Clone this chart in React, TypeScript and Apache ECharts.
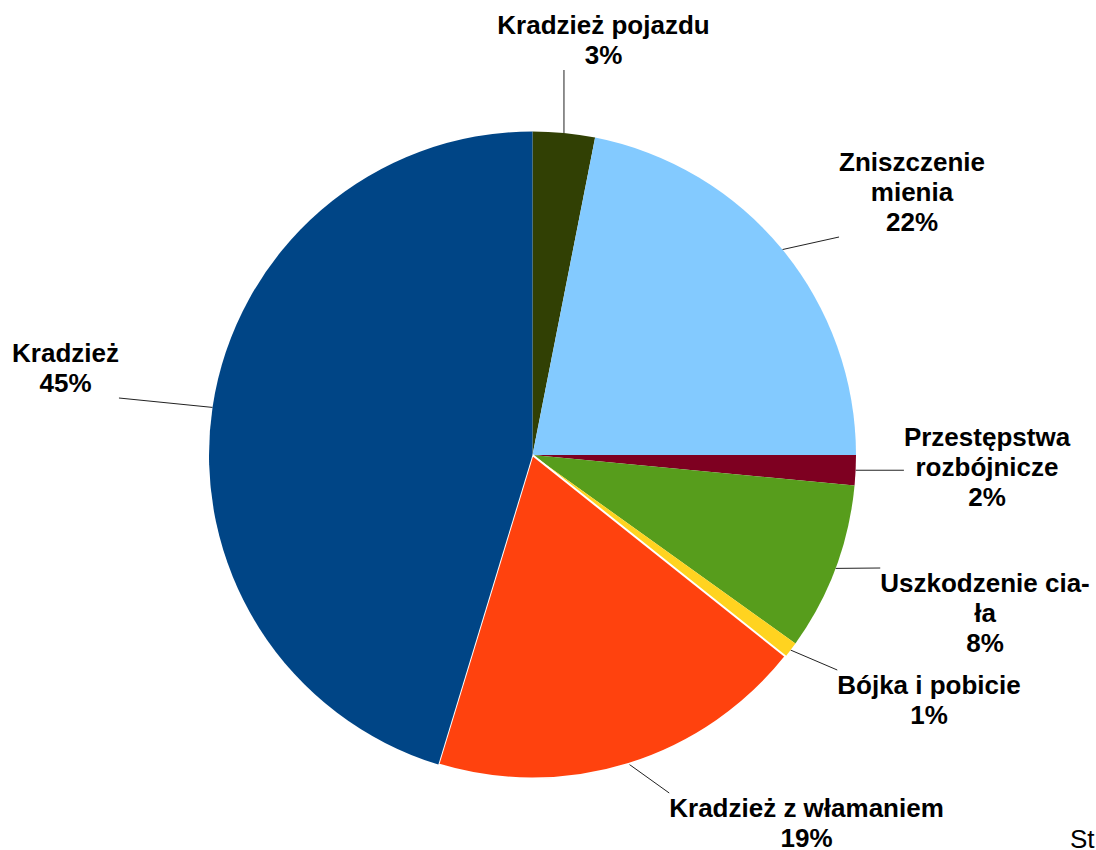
import React, { useEffect, useRef } from "react";
import * as echarts from "echarts";

// ---- data ----
const categories = [
  "Kradzież pojazdu",
  "Zniszczenie mienia",
  "Przestępstwa rozbójnicze",
  "Uszkodzenie ciała",
  "Bójka i pobicie",
  "Kradzież z włamaniem",
  "Kradzież",
];
// wrapped label texts as shown in the chart
const labelTexts = [
  "Kradzież pojazdu",
  "Zniszczenie\nmienia",
  "Przestępstwa\nrozbójnicze",
  "Uszkodzenie cia-\nła",
  "Bójka i pobicie",
  "Kradzież z włamaniem",
  "Kradzież",
];
const shares = [3.1, 21.9, 1.5, 8.4, 0.8, 19.0, 45.3];
const sliceColors = ["#314004", "#83caff", "#7e0021", "#579d1c", "#ffd320", "#ff420e", "#004586"];
const highlightedIndex = 5;
const footerText = "St";

// ---- layout of labels (center x, top y, how the leader line meets the label) ----
const labelPlacement = [
  { x: 603.5, y: 10, attach: "vertical" },
  { x: 912, y: 147, attach: "bottomLeft" },
  { x: 987, y: 422, attach: "left" },
  { x: 985, y: 568, attach: "topLeft" },
  { x: 929, y: 670, attach: "topLeft" },
  { x: 806.5, y: 793, attach: "topLeft" },
  { x: 65.5, y: 338, attach: "bottomRight" },
];

const FONT = "Liberation Sans";

export default function App() {
  const ref = useRef<HTMLDivElement>(null);

  useEffect(() => {
    if (!ref.current) return;
    const chart = echarts.init(ref.current, undefined, { renderer: "svg" });

    const data = categories.map((name, i) => ({
      name,
      value: shares[i],
      itemStyle:
        i === highlightedIndex
          ? { color: sliceColors[i], borderColor: "#ffffff", borderWidth: 2 }
          : { color: sliceColors[i], borderWidth: 0 },
    }));

    chart.setOption({
      animation: false,
      backgroundColor: "#ffffff",
      graphic: [
        {
          type: "text",
          left: 1070,
          top: 826,
          style: {
            text: footerText,
            font: `normal 26px "${FONT}"`,
            fill: "#000000",
          },
        },
      ],
      series: [
        {
          type: "pie",
          center: [532.5, 455],
          radius: 323.5,
          startAngle: 90,
          clockwise: true,
          avoidLabelOverlap: false,
          emphasis: { scale: false },
          data,
          label: {
            show: true,
            position: "outside",
            overflow: "none",
            fontFamily: FONT,
            fontWeight: "bold",
            fontSize: 26,
            lineHeight: 30,
            color: "#000000",
            align: "center",
            formatter: (p: any) =>
              `${labelTexts[p.dataIndex]}\n${Math.round(p.percent)}%`,
          },
          labelLine: {
            show: true,
            length: 10,
            length2: 0,
            smooth: false,
            lineStyle: { color: "#222222", width: 1 },
          },
          labelLayout: (params: any) => {
            const p = labelPlacement[params.dataIndex];
            const w = params.labelRect.width;
            const h = params.labelRect.height;
            const left = p.x - w / 2;
            const right = p.x + w / 2;
            const top = p.y;
            const bottom = p.y + h;
            const pts = params.labelLinePoints;
            const res: any = { x: p.x, y: p.y, align: "center", verticalAlign: "top" };
            if (pts && pts.length) {
              const s = pts[0];
              let end: number[];
              switch (p.attach) {
                case "vertical":
                  end = [s[0], bottom];
                  break;
                case "bottomLeft":
                  end = [left, bottom];
                  break;
                case "left":
                  end = [left, s[1]];
                  break;
                case "bottomRight":
                  end = [right, bottom];
                  break;
                default:
                  end = [left, top];
              }
              res.labelLinePoints = [s, end];
            }
            return res;
          },
        },
      ],
    });

    return () => chart.dispose();
  }, []);

  return (
    <div
      ref={ref}
      style={{ position: "absolute", left: 0, top: 0, width: 1096, height: 850 }}
    />
  );
}
